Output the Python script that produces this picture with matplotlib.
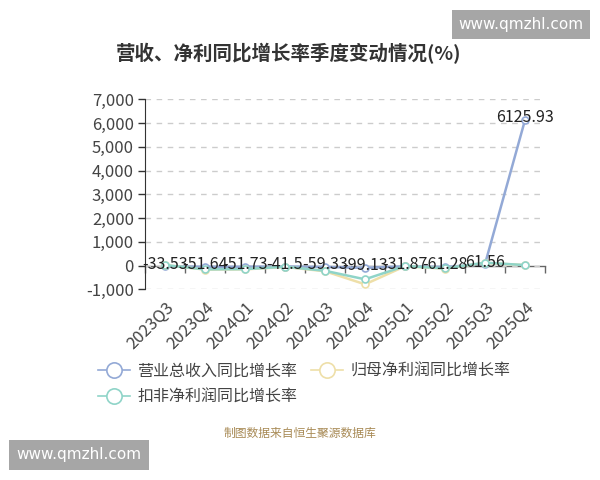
import matplotlib
matplotlib.use("Agg")
import matplotlib.pyplot as plt
from matplotlib.lines import Line2D
from matplotlib.ticker import FuncFormatter

plt.rcParams['font.family'] = ['Noto Sans CJK SC', 'DejaVu Sans']

quarters = ["2023Q3", "2023Q4", "2024Q1", "2024Q2", "2024Q3",
            "2024Q4", "2025Q1", "2025Q2", "2025Q3", "2025Q4"]
revenue_yoy = [-33.53, -51.64, -51.73, -41.5, -59.33, -99.13, -31.87, -61.28, 61.56, 6125.93]
parent_np_yoy = [20, -170, -160, -60, -240, -790, -30, -130, 110, 20]
deducted_np_yoy = [20, -160, -150, -50, -220, -580, -20, -120, 120, 20]

series_names = ["营业总收入同比增长率", "归母净利润同比增长率", "扣非净利润同比增长率"]
colors = ["#93a9d6", "#eedfa8", "#8fd4c8"]

W, H = 600, 480
fig = plt.figure(figsize=(6, 4.8), dpi=100)

left, right, top, bottom = 145, 545, 99.3, 289.3
ax = fig.add_axes([left / W, 1 - bottom / H, (right - left) / W, (bottom - top) / H])

x = list(range(len(quarters)))
for vals, c in zip([revenue_yoy, parent_np_yoy, deducted_np_yoy], colors):
    ax.plot(x, vals, color=c, lw=1.8, marker='o', markersize=5,
            markerfacecolor='white', markeredgecolor=c, markeredgewidth=1.2,
            zorder=3, clip_on=False)

for xi, v in zip(x, revenue_yoy):
    ax.annotate(f"{v:g}", (xi, v), xytext=(0, 1.5), textcoords='offset points',
                ha='center', va='center', fontsize=11.5, color='#222222', zorder=5)

ax.set_xlim(-0.5, len(quarters) - 0.5)
ax.set_ylim(-1000, 7000)
ax.set_yticks(range(-1000, 7001, 1000))
ax.yaxis.set_major_formatter(FuncFormatter(lambda v, p: f"{int(v):,}"))
ax.grid(axis='y', color='#cccccc', linestyle=(0, (4, 4)), linewidth=1)
ax.set_axisbelow(True)

for s in ['top', 'right', 'bottom']:
    ax.spines[s].set_visible(False)
ax.spines['left'].set_color('#333333')
ax.tick_params(axis='y', colors='#333333', labelsize=12, length=5, width=1, pad=3)
for t in ax.get_yticklabels():
    t.set_color('#444444')

ax.set_xticks(x)
ax.set_xticklabels(quarters, rotation=45, ha='right', va='top',
                   rotation_mode='anchor', fontsize=12, color='#444444')
ax.tick_params(axis='x', length=0, pad=7)

# zero axis line with category boundary ticks
sec = ax.secondary_xaxis(1000 / 8000)
sec.set_xticks([i - 0.5 for i in range(len(quarters) + 1)])
sec.set_xticklabels([])
sec.tick_params(axis='x', length=5, width=1, color='#666666', direction='out')
sec.spines['bottom'].set_color('#666666')
sec.spines['bottom'].set_linewidth(1)

fig.text(289 / W, 1 - 54 / H, "营收、净利同比增长率季度变动情况(%)",
         ha='center', va='center', fontsize=14, fontweight='bold', color='#333333')

handles = [Line2D([0], [0], color=c, lw=1.2, marker='o', markersize=11,
                  markerfacecolor='white', markeredgecolor=c, markeredgewidth=1.2)
           for c in colors]
order = [0, 2, 1]
leg = fig.legend([handles[i] for i in order], [series_names[i] for i in order],
                 loc='upper left', bbox_to_anchor=(90 / W, 1 - 355 / H), ncol=2,
                 frameon=False, fontsize=11.5, handlelength=2.0, handletextpad=0.45,
                 columnspacing=0.9, labelspacing=0.55, borderpad=0)
for t in leg.get_texts():
    t.set_color('#444444')

fig.text(300 / W, 1 - 433 / H, "制图数据来自恒生聚源数据库", ha='center', va='center',
         fontsize=8.5, color='#a88a55')

fig.text(521 / W, 1 - 24.5 / H, "www.qmzhl.com", ha='center', va='center',
         fontsize=11, color='white', family='DejaVu Sans',
         bbox=dict(boxstyle='square,pad=0.45', facecolor='#a6a6a6', edgecolor='none'))
fig.text(79 / W, 1 - 455 / H, "www.qmzhl.com", ha='center', va='center',
         fontsize=11, color='white', family='DejaVu Sans',
         bbox=dict(boxstyle='square,pad=0.5', facecolor='#a6a6a6', edgecolor='none'))

fig.savefig("out.png", dpi=100)
